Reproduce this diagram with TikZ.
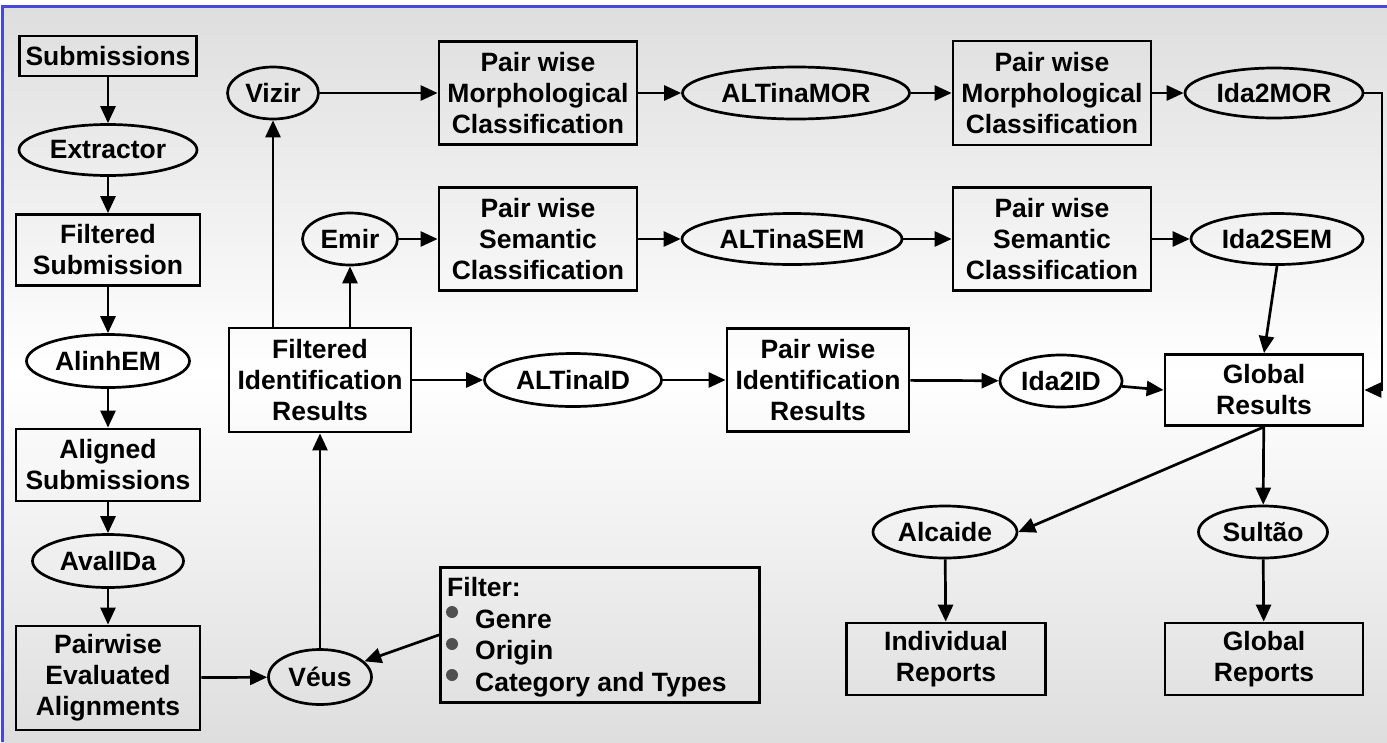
\documentclass[tikz,border=0pt]{standalone}
\usepackage{fontspec}
\setmainfont{Liberation Sans}
\usetikzlibrary{shapes.geometric,arrows.meta}
\definecolor{frameblue}{RGB}{72,72,214}
\definecolor{bggray}{RGB}{222,222,222}
\definecolor{bulgray}{RGB}{80,80,80}
\begin{document}
\begin{tikzpicture}[x=1pt,y=-1pt,
  every node/.style={font=\fontsize{26.5}{31}\selectfont\bfseries, inner sep=0pt, align=center},
  box/.style={draw, line width=2.8pt, rectangle},
  oval/.style={draw, line width=2.7pt, ellipse},
  arr/.style={line width=2.7pt, -{Triangle[length=17pt,width=15pt]}},
  bul/.style={fill=bulgray}
  ]
\useasboundingbox (0,0) rectangle (1387,742);
\fill[white] (0,0) rectangle (1387,742);
\shade[top color=bggray, bottom color=bggray, middle color=white] (2,6) rectangle (1387,742);
\draw[frameblue, line width=3pt] (1387,6) -- (2,6) -- (2,742);

% left column
\node[box, minimum width=177, minimum height=40] (sub) at (108,56) {Submissions};
\node[oval, minimum width=178, minimum height=51] (ext) at (108,150) {Extractor};
\node[box, minimum width=184, minimum height=71] (fsub) at (108,250) {Filtered\\Submission};
\node[oval, minimum width=163, minimum height=53] (alin) at (108,361) {AlinhEM};
\node[box, minimum width=184, minimum height=72] (asub) at (108,465) {Aligned\\Submissions};
\node[oval, minimum width=151, minimum height=53] (aval) at (108,561) {AvalIDa};
\node[box, minimum width=184, minimum height=104] (pwea) at (108,678) {Pairwise\\Evaluated\\Alignments};

% Veus and filter
\node[oval, minimum width=103, minimum height=55] (veus) at (320,677) {Véus};
\node[box, minimum width=319, minimum height=135, anchor=north west] (filt) at (439,566) {};
\node[anchor=base west] (ft0) at (447,596) {Filter:};
\node[anchor=base west] (ft1) at (475,628) {Genre};
\node[anchor=base west] (ft2) at (475,659) {Origin};
\node[anchor=base west] (ft3) at (475,691) {Category and Types};
\fill[bul] (452,612) circle (6pt);
\fill[bul] (452,644) circle (6pt);
\fill[bul] (452,675) circle (6pt);

% middle
\node[box, minimum width=182, minimum height=104] (fir) at (320,380) {Filtered\\Identification\\Results};
\node[oval, minimum width=91, minimum height=52] (vizir) at (273,93) {Vizir};
\node[oval, minimum width=95, minimum height=52] (emir) at (350,239) {Emir};
\node[box, minimum width=198, minimum height=103] (mor1) at (538,93) {Pair wise\\Morphological\\Classification};
\node[box, minimum width=198, minimum height=103] (sem1) at (538,239) {Pair wise\\Semantic\\Classification};
\node[oval, minimum width=227, minimum height=52] (amor) at (796,93) {ALTinaMOR};
\node[oval, minimum width=220, minimum height=51] (asem) at (792,239) {ALTinaSEM};
\node[box, minimum width=198, minimum height=104] (mor2) at (1052,93) {Pair wise\\Morphological\\Classification};
\node[box, minimum width=198, minimum height=103] (sem2) at (1052,239) {Pair wise\\Semantic\\Classification};
\node[oval, minimum width=178, minimum height=50] (imor) at (1274,93) {Ida2MOR};
\node[oval, minimum width=172, minimum height=51] (isem) at (1277,239) {Ida2SEM};
\node[oval, minimum width=177, minimum height=53] (altid) at (573,380) {ALTinaID};
\node[box, minimum width=182, minimum height=103] (pwid) at (818,380) {Pair wise\\Identification\\Results};
\node[oval, minimum width=122, minimum height=52] (iid) at (1061,381) {Ida2ID};
\node[box, minimum width=198, minimum height=71] (glob) at (1264,390) {Global\\Results};
\node[oval, minimum width=144, minimum height=52] (alc) at (945,532) {Alcaide};
\node[oval, minimum width=129, minimum height=52] (sul) at (1263,532) {Sultão};
\node[box, minimum width=199, minimum height=72] (irep) at (946,659) {Individual\\Reports};
\node[box, minimum width=198, minimum height=72] (grep) at (1264,659) {Global\\Reports};
\coordinate (rt) at (1382,93);

% connectors
\draw[arr] (sub) -- (ext);
\draw[arr] (ext) -- (fsub);
\draw[arr] (fsub) -- (alin);
\draw[arr] (alin) -- (asub);
\draw[arr] (asub) -- (aval);
\draw[arr] (aval) -- (pwea);
\draw[arr] (pwea) -- (veus);
\draw[arr] (filt.west) -- (veus);
\draw[arr] (veus) -- (fir);
\draw[arr] (vizir |- fir.north) -- (vizir);
\draw[arr] (emir |- fir.north) -- (emir);
\draw[arr] (vizir) -- (mor1);
\draw[arr] (mor1) -- (amor);
\draw[arr] (amor) -- (mor2);
\draw[arr] (mor2) -- (imor);
\draw[arr] (emir) -- (sem1);
\draw[arr] (sem1) -- (asem);
\draw[arr] (asem) -- (sem2);
\draw[arr] (sem2) -- (isem);
\draw[arr] (fir) -- (altid);
\draw[arr] (altid) -- (pwid);
\draw[arr] (pwid) -- (iid);
\draw[arr] (iid) -- (glob.west);
\draw[arr] (imor.east) -- (rt) |- (glob.east);
\draw[arr] (isem.south) -- (glob.north);
\draw[arr] (glob.south) -- (alc.east);
\draw[arr] (glob) -- (sul);
\draw[arr] (alc) -- (irep);
\draw[arr] (sul) -- (grep);
\end{tikzpicture}
\end{document}
